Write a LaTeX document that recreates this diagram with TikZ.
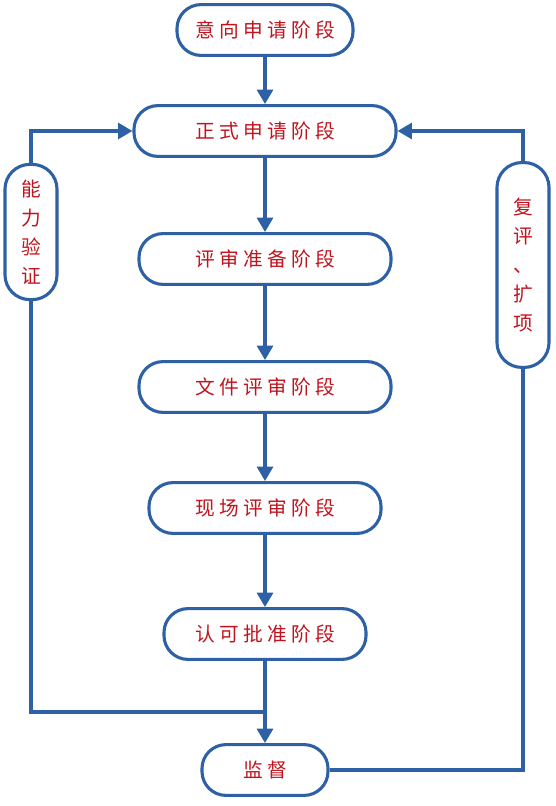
\documentclass[tikz,border=0pt]{standalone}
\usepackage{fontspec}
\newfontfamily\cjk[LetterSpace=22]{Noto Sans CJK SC}
\usetikzlibrary{arrows.meta, positioning, calc}
\definecolor{LB}{RGB}{46,96,166}
\definecolor{TR}{RGB}{192,20,30}

\begin{document}
\begin{tikzpicture}[
  x=0.025cm, y=-0.025cm,
  stage/.style={draw=LB, line width=2.2pt, rounded corners=0.6cm, fill=white,
                minimum width=#1, minimum height=1.27cm, inner sep=0pt,
                align=center, text=TR, font=\cjk\fontsize{14}{16}\selectfont},
  side/.style={draw=LB, line width=2.2pt, rounded corners=0.62cm, fill=white,
               minimum width=1.3cm, minimum height=#1, inner sep=0pt,
               align=center, text=TR, font=\cjk\fontsize{14}{20.5}\selectfont},
  arr/.style={-{Triangle[length=0.36cm, width=0.4cm]}, line width=2.2pt, draw=LB},
  line/.style={line width=2.2pt, draw=LB}
]
\useasboundingbox (0,0) rectangle (555,806);

\node[stage=4.4cm]  (intent) at (265, 30)  {意向申请阶段};
\node[stage=6.55cm] (formal) at (265,131)  {正式申请阶段};
\node[stage=6.3cm]  (prep)   at (265,259)  {评审准备阶段};
\node[stage=6.3cm]  (doc)    at (265,387)  {文件评审阶段};
\node[stage=5.8cm]  (site)   at (265,508)  {现场评审阶段};
\node[stage=5.05cm] (accr)   at (265,634)  {认可批准阶段};
\node[stage=3.15cm] (super)  at (265,770)  {监督};

\node[side=3.38cm] (ability) at (31,232)  {能\\力\\验\\证};
\node[side=5.12cm] (review)  at (523,265) {复\\评\\、\\扩\\项};

\coordinate (join) at (265,712);

\draw[arr] (intent)--(formal);
\draw[arr] (formal)--(prep);
\draw[arr] (prep)--(doc);
\draw[arr] (doc)--(site);
\draw[arr] (site)--(accr);
\draw[arr] (accr)--(super);

% left loop
\draw[arr] (ability.north) |- (formal.west);
\draw[line] (ability.south) |- (join);

% right loop
\draw[arr] (review.north) |- (formal.east);
\draw[line] (super.east) -| (review.south);
\end{tikzpicture}
\end{document}
